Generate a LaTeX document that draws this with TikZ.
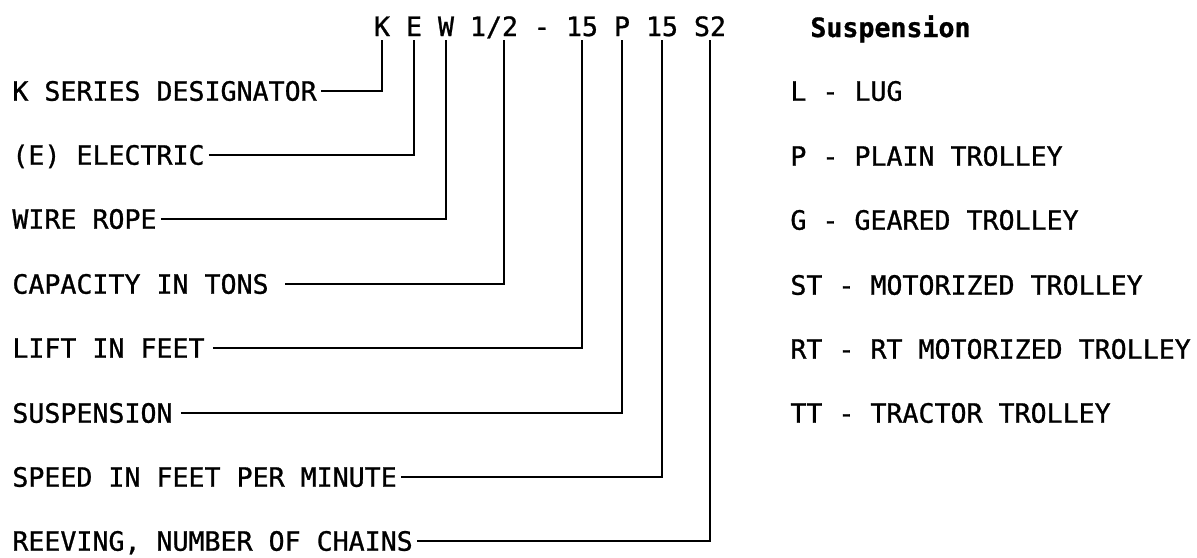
\documentclass[tikz,border=0pt]{standalone}
\usepackage{fontspec}
\setmonofont[FakeBold=1]{DejaVu Sans Mono}
\begin{document}
\begin{tikzpicture}
		[x=0.5pt,y=-0.5pt,
		code/.style={font=\ttfamily\fontsize{13.3}{16}\selectfont,inner sep=2pt,
text depth=0pt,anchor=base},
		lefttext/.style={font=\ttfamily\fontsize{13.3}{16}\selectfont,inner sep=2pt,
text height=9.7pt,text depth=0pt,anchor=west},
		righttext/.style={font=\ttfamily\fontsize{13.3}{16}\selectfont,inner sep=0pt,
text height=9.7pt,text depth=0pt,anchor=west},
		headstyle/.style={font=\ttfamily\bfseries\fontsize{13.3}{16}\selectfont,inner sep=0pt,anchor=base west},
		lead/.style={-,line width=1.2pt,to path={-| (\tikztotarget)}}]
		\useasboundingbox (0,0) rectangle (1197,557);
		% model code
		\node at (382,36) (k) [code] {K};
		\node at (414,36) (e) [code] {E};
		\node at (446,36) (w) [code] {W};
		\node at (494,36) (half) [code] {1/2};
		\node at (542,36) (dash) [code] {-};
		\node at (582,36) (lift) [code] {15};
		\node at (622,36) (p) [code] {P};
		\node at (662,36) (speed) [code] {15};
		\node at (710,36) (s2) [code] {S2};
		% left legend
		\node at (8,91) (series) [lefttext] {K SERIES DESIGNATOR}
			edge [lead] (k);
		\node at (8,155) (electric) [lefttext] {(E) ELECTRIC}
			edge [lead] (e);
		\node at (8,219) (rope) [lefttext] {WIRE ROPE}
			edge [lead] (w);
		\node at (8,284) (capacity) [lefttext] {CAPACITY IN TONS\kern6pt}
			edge [lead] ([xshift=5pt]half.south);
		\node at (8,348) (feet) [lefttext] {LIFT IN FEET\kern2pt}
			edge [lead] (lift);
		\node at (8,413) (susp) [lefttext] {SUSPENSION\kern2pt}
			edge [lead] (p);
		\node at (8,477) (fpm) [lefttext] {SPEED IN FEET PER MINUTE}
			edge [lead] (speed);
		\node at (8,541) (reeving) [lefttext] {REEVING, NUMBER OF CHAINS}
			edge [lead] (s2);
		% suspension list
		\node at (810,37) (head) [headstyle] {Suspension};
		\node at (790,91) (lug) [righttext] {L - LUG};
		\node at (790,156) (plain) [righttext] {P - PLAIN TROLLEY};
		\node at (790,220) (geared) [righttext] {G - GEARED TROLLEY};
		\node at (790,285) (st) [righttext] {ST - MOTORIZED TROLLEY};
		\node at (790,349) (rt) [righttext] {RT - RT MOTORIZED TROLLEY};
		\node at (790,413) (tt) [righttext] {TT - TRACTOR TROLLEY};
	\end{tikzpicture}
\end{document}
